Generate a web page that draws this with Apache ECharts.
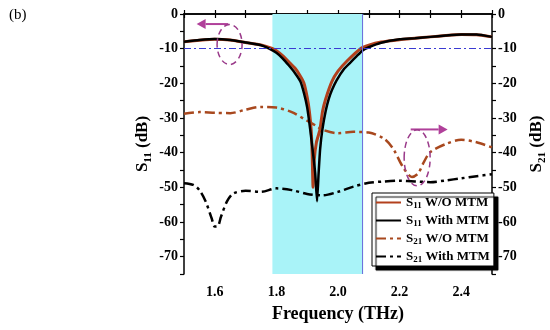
<!DOCTYPE html>
<html><head><meta charset="utf-8">
<script src="https://cdn.jsdelivr.net/npm/echarts@6/dist/echarts.min.js"></script>
<style>html,body{margin:0;padding:0;background:#fff}#c{width:550px;height:330px}</style>
</head><body><div id="c"></div>
<script>
// ---- data ----
const s11WoFreq = [1.5,1.55,1.6,1.65,1.7,1.75,1.786,1.80,1.82,1.84,1.86,1.875,1.889,1.90,1.907,1.913,1.916,1.919,1.923,1.93,1.941,1.95,1.96,1.98,2.0,2.03,2.073,2.1,2.14,2.2,2.25,2.3,2.35,2.4,2.45,2.5];
const s11WoVal  = [-8.0,-7.6,-7.3,-7.5,-8.2,-8.9,-9.9,-10.6,-12.0,-13.8,-15.6,-17.5,-19.8,-24,-28,-33.5,-40,-50,-42,-37,-33.5,-28,-24.5,-19.5,-16.5,-13.5,-10.0,-9.0,-8.1,-7.4,-7.0,-6.6,-6.2,-5.9,-6.0,-6.6];
const s11WFreq  = [1.5,1.55,1.6,1.65,1.7,1.75,1.775,1.80,1.82,1.84,1.86,1.878,1.89,1.90,1.91,1.92,1.926,1.932,1.937,1.942,1.949,1.96,1.97,1.98,1.995,2.02,2.04,2.06,2.08,2.1,2.14,2.2,2.25,2.3,2.35,2.4,2.45,2.5];
const s11WVal   = [-8.0,-7.5,-7.2,-7.5,-8.2,-9.0,-9.9,-11.2,-12.8,-14.8,-17.0,-19.5,-23,-27,-33.5,-41,-46,-54,-46,-39,-33.5,-28,-24.5,-22,-19.2,-15.8,-14.0,-12.2,-10.5,-9.6,-8.3,-7.3,-7.0,-6.6,-6.2,-5.9,-5.9,-6.6];
const s21WoFreq = [1.5,1.55,1.6,1.65,1.7,1.75,1.8,1.85,1.9,1.93,1.95,2.0,2.05,2.1,2.15,2.18,2.21,2.24,2.26,2.28,2.3,2.35,2.4,2.45,2.5];
const s21WoVal  = [-28.8,-28.3,-28.5,-28.6,-27.6,-26.8,-27.0,-28.3,-30.8,-32.3,-33.4,-34.4,-34.0,-34.2,-36.0,-39.0,-44.0,-47.0,-46.0,-42.5,-39.8,-37.5,-36.3,-37.0,-38.5];
const s21WFreq  = [1.5,1.53,1.55,1.57,1.59,1.6,1.61,1.62,1.64,1.66,1.7,1.75,1.8,1.85,1.9,1.95,2.0,2.05,2.1,2.15,2.2,2.25,2.3,2.35,2.4,2.45,2.5];
const s21WVal   = [-48.8,-49.3,-50.8,-54,-59,-61.3,-61.2,-58.5,-54,-51.8,-51.0,-51.3,-50.3,-50.8,-51.9,-52.3,-51.3,-49.8,-48.7,-48.3,-48.1,-48.3,-48.5,-48.0,-47.4,-46.8,-46.2];
const seriesNames = ['S11 W/O MTM','S11 With MTM','S21 W/O MTM','S21 With MTM'];
const bandRange = [1.787, 2.082];
const refLevel = -10;
const xTickLabels = [1.6,1.8,2.0,2.2,2.4];

const pair = (xs, ys) => xs.map((x,i)=>[x, ys[i]]);
const font = 'Liberation Serif';
const dashDot = [10,4,3,4];

const chart = echarts.init(document.getElementById('c'), null, {renderer:'canvas'});
const axisCommonY = {
  type:'value', min:-75, max:0, interval:5,
  axisLine:{show:true, lineStyle:{color:'#000', width:1.5}},
  axisTick:{show:true, length:4, lineStyle:{color:'#000', width:1.2}},
  splitLine:{show:false},
  axisLabel:{color:'#000', fontFamily:font, fontWeight:'bold', fontSize:14, margin:6,
    formatter:v => (Math.round(v)%10===0 ? String(Math.round(v)) : '')},
  nameLocation:'middle', nameRotate:90, nameMoveOverlap:false,
  nameTextStyle:{color:'#000', fontFamily:font, fontWeight:'bold', fontSize:17,
    rich:{a:{fontFamily:font, fontWeight:'bold', fontSize:17, color:'#000', lineHeight:22},
          s:{fontFamily:font, fontWeight:'bold', fontSize:11, color:'#000', verticalAlign:'bottom', lineHeight:12}}}
};
const axisCommonX = {
  type:'value', min:1.5, max:2.5, interval:0.1,
  axisLine:{show:true, lineStyle:{color:'#000', width:1.5}},
  axisTick:{show:true, length:4, lineStyle:{color:'#000', width:1.2}},
  splitLine:{show:false}
};
const legendRich = {
  a:{fontFamily:font, fontWeight:'bold', fontSize:13, color:'#000', lineHeight:15},
  s:{fontFamily:font, fontWeight:'bold', fontSize:9, color:'#000', verticalAlign:'bottom', lineHeight:9}
};

chart.setOption({
  animation:false,
  backgroundColor:'#fff',
  title:{text:'(b)', left:4, top:3, textStyle:{fontFamily:font, fontWeight:'normal', fontSize:15, color:'#000'}},
  grid:{left:184, right:58, top:14, bottom:56, containLabel:false, outerBoundsMode:'none'},
  legend:{
    data:seriesNames, orient:'vertical', left:372, top:193,
    itemWidth:25, itemHeight:12, itemGap:4,
    padding:[3,4,2,3],
    backgroundColor:'#fff', borderColor:'#000', borderWidth:1,
    shadowColor:'#000', shadowBlur:1, shadowOffsetX:4, shadowOffsetY:4,
    itemStyle:{opacity:0},
    textStyle:{rich:legendRich},
    formatter:name => { const sub = name.slice(1,3); return '{a|S}{s|'+sub+'}{a| '+name.slice(4)+'}'; }
  },
  xAxis:[
    Object.assign({}, axisCommonX, {position:'bottom',
      name:'Frequency (THz)', nameLocation:'middle', nameGap:31,
      nameTextStyle:{color:'#000', fontFamily:font, fontWeight:'bold', fontSize:18},
      axisLabel:{color:'#000', fontFamily:font, fontWeight:'bold', fontSize:14, margin:11,
        customValues:xTickLabels, formatter:v=>v.toFixed(1)}}),
    Object.assign({}, axisCommonX, {position:'top', axisLabel:{show:false}})
  ],
  yAxis:[
    Object.assign({}, axisCommonY, {position:'left', name:'{a|S}{s|11}{a| (dB)}', nameGap:30}),
    Object.assign({}, axisCommonY, {position:'right', name:'{a|S}{s|21}{a| (dB)}', nameGap:34})
  ],
  series:[
    {name:seriesNames[0], type:'line', xAxisIndex:0, yAxisIndex:0, data:pair(s11WoFreq, s11WoVal),
      showSymbol:false, symbol:'none', smooth:0.15, color:'#b3401d', lineStyle:{width:3, color:'#b3401d'}, z:3,
      markArea:{silent:true, itemStyle:{color:'#a9f3f8'}, data:[[{xAxis:bandRange[0]},{xAxis:bandRange[1]}]]},
      markLine:{silent:true, symbol:'none', label:{show:false},
        data:[
          {yAxis:refLevel, lineStyle:{color:'#3a3ad2', width:1.2, type:[7,3,2,3]}},
          {xAxis:bandRange[1], lineStyle:{color:'#7070dd', width:1, type:'solid'}}
        ]}},
    {name:seriesNames[1], type:'line', xAxisIndex:0, yAxisIndex:0, data:pair(s11WFreq, s11WVal),
      showSymbol:false, symbol:'none', smooth:0.15, color:'#000', lineStyle:{width:2.5, color:'#000'}, z:4},
    {name:seriesNames[2], type:'line', xAxisIndex:0, yAxisIndex:1, data:pair(s21WoFreq, s21WoVal),
      showSymbol:false, symbol:'none', smooth:0.3, color:'#a8481e', lineStyle:{width:2.5, color:'#a8481e', type:dashDot}, z:3},
    {name:seriesNames[3], type:'line', xAxisIndex:0, yAxisIndex:1, data:pair(s21WFreq, s21WVal),
      showSymbol:false, symbol:'none', smooth:0.3, color:'#000', lineStyle:{width:2.5, color:'#000', type:dashDot}, z:3}
  ]
});

// annotations: arrows and dashed ellipses placed in data coordinates
function px(x,y){ return chart.convertToPixel({xAxisIndex:0, yAxisIndex:0}, [x,y]); }
function arrow(from, to, color){
  const a = px(from[0],from[1]), b = px(to[0],to[1]);
  const dir = Math.sign(b[0]-a[0]);
  const hl = 9, hw = 5;
  return [
    {type:'line', shape:{x1:a[0], y1:a[1], x2:b[0]-dir*hl, y2:b[1]}, style:{stroke:color, lineWidth:2}, z:10},
    {type:'polygon', shape:{points:[[b[0],b[1]],[b[0]-dir*hl,b[1]-hw],[b[0]-dir*hl,b[1]+hw]]}, style:{fill:color}, z:10}
  ];
}
function ellipse(c, rx, ry, color){
  const p = px(c[0],c[1]);
  return {type:'ellipse', shape:{cx:p[0], cy:p[1], rx:rx, ry:ry}, style:{fill:null, stroke:color, lineWidth:1.5, lineDash:[6,4]}, z:10};
}
const annColor = '#b0409a';
chart.setOption({graphic:[].concat(
  arrow([1.644,-2.9],[1.541,-2.9], annColor),
  arrow([2.236,-33.3],[2.356,-33.3], annColor),
  [ellipse([1.648,-8.8], 12.5, 20, '#9a3a8a'), ellipse([2.257,-41.5], 13, 28, '#9a3a8a')]
)});
</script>
</body></html>
